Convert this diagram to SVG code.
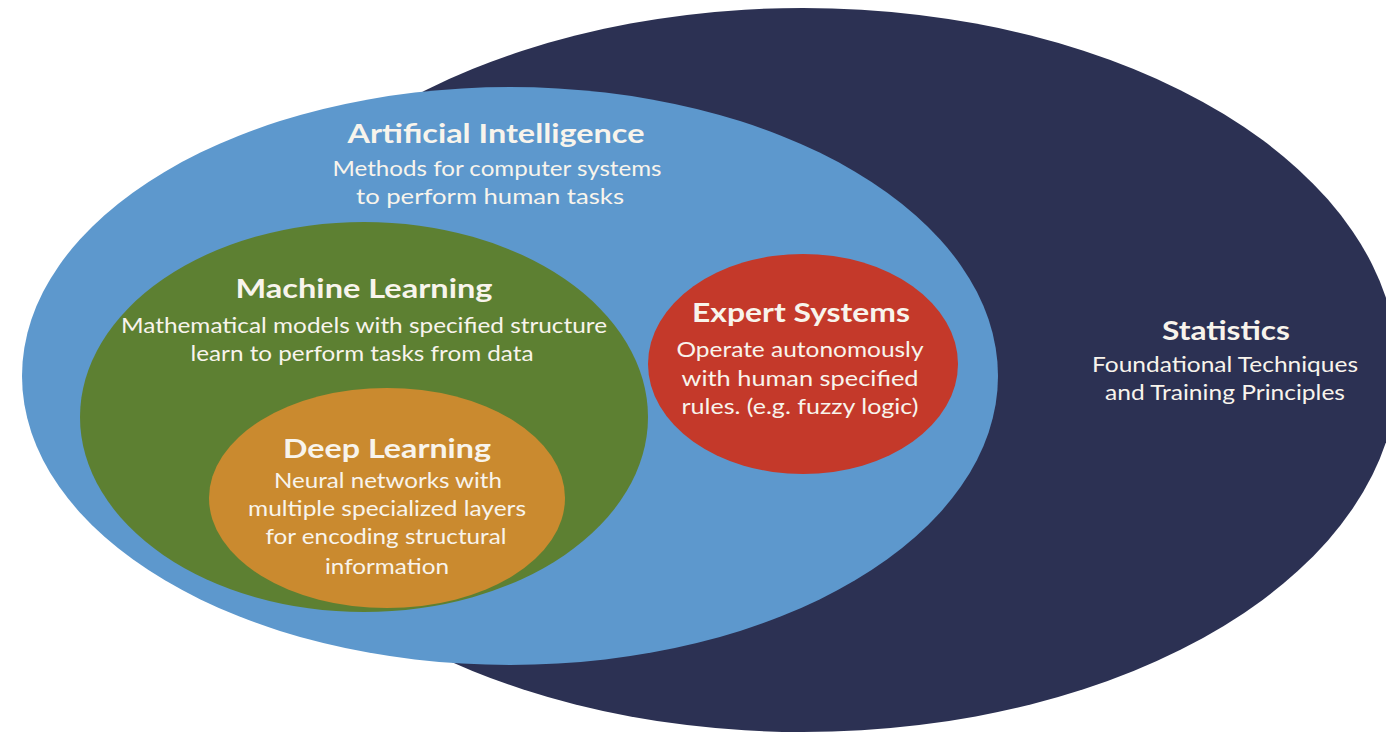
<svg xmlns="http://www.w3.org/2000/svg" width="1386" height="736" viewBox="0 0 1386 736">
  <style>
    .title { font-family: Lato, "Liberation Sans", sans-serif; font-weight: 700; font-size: 27px; fill: #F8F4EC; text-anchor: middle; }
    .desc { font-family: Lato, "Liberation Sans", sans-serif; font-weight: 400; font-size: 21px; fill: #F8F4EC; text-anchor: middle; }
  </style>
  <rect width="1386" height="736" fill="#FFFFFF"/>

  <!-- Statistics: outermost set -->
  <g id="statistics">
    <ellipse cx="803" cy="370" rx="595" ry="362" fill="#2C3153"/>
    <text class="title" x="1226" y="340" textLength="128" lengthAdjust="spacingAndGlyphs">Statistics</text>
    <text class="desc" x="1225" y="372" textLength="266" lengthAdjust="spacingAndGlyphs">Foundational Techniques</text>
    <text class="desc" x="1225" y="400" textLength="240" lengthAdjust="spacingAndGlyphs">and Training Principles</text>
  </g>

  <!-- Artificial Intelligence -->
  <g id="artificial-intelligence">
    <ellipse cx="510" cy="376" rx="488" ry="289" fill="#5D98CD"/>
    <text class="title" x="496" y="143" textLength="297" lengthAdjust="spacingAndGlyphs">Artificial Intelligence</text>
    <text class="desc" x="497" y="176" textLength="329" lengthAdjust="spacingAndGlyphs">Methods for computer systems</text>
    <text class="desc" x="490" y="204" textLength="268" lengthAdjust="spacingAndGlyphs">to perform human tasks</text>
  </g>

  <!-- Machine Learning -->
  <g id="machine-learning">
    <ellipse cx="364" cy="417" rx="284" ry="195" fill="#5D8032"/>
    <text class="title" x="364" y="298" textLength="257" lengthAdjust="spacingAndGlyphs">Machine Learning</text>
    <text class="desc" x="364" y="333" textLength="486" lengthAdjust="spacingAndGlyphs">Mathematical models with specified structure</text>
    <text class="desc" x="362" y="361" textLength="343" lengthAdjust="spacingAndGlyphs">learn to perform tasks from data</text>
  </g>

  <!-- Deep Learning -->
  <g id="deep-learning">
    <ellipse cx="387" cy="498" rx="178" ry="110" fill="#CA8A2F"/>
    <text class="title" x="387" y="458" textLength="208" lengthAdjust="spacingAndGlyphs">Deep Learning</text>
    <text class="desc" x="388" y="488" textLength="228" lengthAdjust="spacingAndGlyphs">Neural networks with</text>
    <text class="desc" x="387" y="516" textLength="278" lengthAdjust="spacingAndGlyphs">multiple specialized layers</text>
    <text class="desc" x="386" y="544" textLength="241" lengthAdjust="spacingAndGlyphs">for encoding structural</text>
    <text class="desc" x="387" y="574" textLength="124" lengthAdjust="spacingAndGlyphs">information</text>
  </g>

  <!-- Expert Systems -->
  <g id="expert-systems">
    <ellipse cx="803" cy="364" rx="155" ry="110" fill="#C4392A"/>
    <text class="title" x="801" y="322" textLength="218" lengthAdjust="spacingAndGlyphs">Expert Systems</text>
    <text class="desc" x="800" y="357" textLength="247" lengthAdjust="spacingAndGlyphs">Operate autonomously</text>
    <text class="desc" x="800" y="386" textLength="237" lengthAdjust="spacingAndGlyphs">with human specified</text>
    <text class="desc" x="800" y="414" textLength="237" lengthAdjust="spacingAndGlyphs">rules. (e.g. fuzzy logic)</text>
  </g>

  <!-- no connectors in this diagram -->
  <g id="connectors"/>
</svg>
